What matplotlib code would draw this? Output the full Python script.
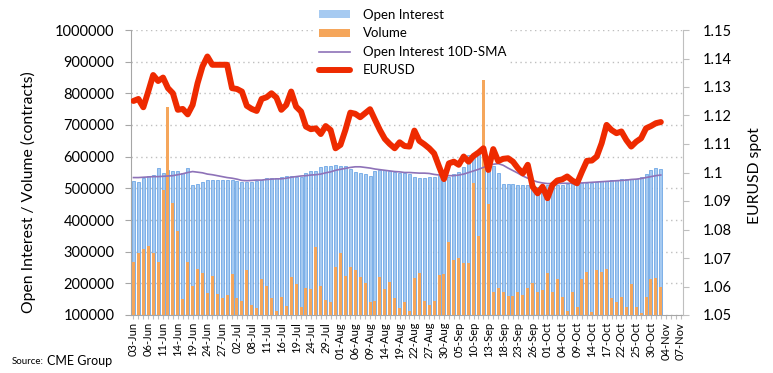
import matplotlib
matplotlib.use("Agg")
import matplotlib.pyplot as plt
import numpy as np
from matplotlib.lines import Line2D
from matplotlib.patches import Patch

plt.rcParams['font.family'] = ['Lato', 'DejaVu Sans']

# x axis: one category per trading day, a label every third day
tick_labels = ["03-Jun", "06-Jun", "11-Jun", "14-Jun", "19-Jun", "24-Jun", "27-Jun",
               "02-Jul", "08-Jul", "11-Jul", "16-Jul", "19-Jul", "24-Jul", "29-Jul",
               "01-Aug", "06-Aug", "09-Aug", "14-Aug", "19-Aug", "22-Aug", "27-Aug", "30-Aug",
               "05-Sep", "10-Sep", "13-Sep", "18-Sep", "23-Sep", "26-Sep",
               "01-Oct", "04-Oct", "09-Oct", "14-Oct", "17-Oct", "22-Oct", "25-Oct", "30-Oct",
               "04-Nov", "07-Nov"]
n_cats = 112

# values in thousands of contracts
open_interest = [524, 521, 532, 540, 542, 565, 547, 558, 556, 555, 550, 565, 510, 513, 519, 526,
                 526, 526, 526, 526, 526, 524, 521, 521, 521, 524, 526, 532, 534, 534, 536, 540,
                 540, 537, 537, 547, 554, 556, 566, 569, 572, 575, 571, 569, 560, 553, 547, 544,
                 540, 556, 558, 558, 556, 553, 550, 550, 545, 535, 532, 532, 535, 537, 539, 540,
                 537, 545, 553, 568, 605, 600, 608, 590, 574, 570, 547, 514, 513, 514, 510, 510,
                 511, 505, 505, 508, 509, 511, 510, 511, 513, 514, 516, 516, 516, 518, 521, 524,
                 524, 526, 526, 528, 528, 530, 530, 537, 544, 558, 563, 561]

volume = [266, 295, 307, 319, 295, 266, 495, 758, 453, 365, 149, 266, 192, 244, 234, 168,
          224, 165, 153, 163, 228, 153, 145, 242, 131, 121, 213, 193, 153, 114, 158, 128,
          221, 197, 124, 184, 181, 316, 192, 147, 142, 251, 295, 224, 251, 242, 221, 200,
          140, 145, 219, 181, 205, 155, 121, 140, 113, 216, 232, 145, 132, 145, 226, 230,
          330, 274, 281, 263, 263, 518, 350, 852, 450, 174, 184, 172, 161, 161, 174, 163,
          184, 200, 172, 179, 232, 174, 213, 158, 113, 174, 126, 213, 237, 111, 242, 237,
          244, 153, 140, 158, 124, 197, 124, 105, 156, 213, 216, 187]

oi_sma = [534, 534, 535, 536, 537, 537, 538, 539, 540, 543, 546, 550, 553, 551, 549, 545,
          543, 540, 537, 534, 532, 529, 525, 524, 525, 526, 526, 528, 529, 530, 530, 532,
          535, 537, 539, 540, 542, 543, 545, 549, 552, 557, 560, 563, 566, 568, 568, 566,
          564, 561, 559, 557, 555, 553, 552, 550, 550, 549, 548, 548, 547, 544, 542, 540,
          540, 540, 542, 545, 550, 555, 560, 566, 572, 576, 578, 573, 564, 556, 548, 539,
          532, 525, 520, 517, 515, 515, 515, 516, 516, 516, 517, 517, 518, 519, 520, 521,
          522, 523, 524, 525, 526, 528, 529, 531, 534, 537, 540, 542]

eurusd = [1.1251, 1.1258, 1.1229, 1.1284, 1.1342, 1.1321, 1.1333, 1.1296, 1.1278, 1.1220,
          1.1223, 1.1204, 1.1237, 1.1313, 1.1372, 1.1407, 1.1378, 1.1378, 1.1378, 1.1378,
          1.1296, 1.1293, 1.1284, 1.1234, 1.1223, 1.1216, 1.1258, 1.1264, 1.1278, 1.1263,
          1.1220, 1.1237, 1.1284, 1.1231, 1.1214, 1.1161, 1.1152, 1.1155, 1.1135, 1.1163,
          1.1149, 1.1085, 1.1097, 1.1149, 1.1210, 1.1206, 1.1194, 1.1208, 1.1222, 1.1185,
          1.1149, 1.1118, 1.1100, 1.1085, 1.1106, 1.1093, 1.1091, 1.1147, 1.1111, 1.1099,
          1.1085, 1.1067, 1.1021, 1.0977, 1.1032, 1.1038, 1.1027, 1.1056, 1.1038, 1.1058,
          1.1070, 1.1085, 1.1009, 1.1082, 1.1040, 1.1048, 1.1050, 1.1038, 1.1015, 1.0997,
          1.1027, 1.0950, 1.0927, 1.0950, 1.0910, 1.0956, 1.0972, 1.0976, 1.0986, 1.0972,
          1.0962, 1.1003, 1.1041, 1.1042, 1.1056, 1.1103, 1.1167, 1.1149, 1.1138, 1.1144,
          1.1114, 1.1091, 1.1108, 1.1120, 1.1155, 1.1163, 1.1173, 1.1177]

blue = '#A6CAF1'
blue_edge = '#5C9CE2'
orange = '#F5A65B'
purple = '#8E72B8'
red = '#EE2A00'
grey = '#A6A6A6'

W, H = 773, 373
fig = plt.figure(figsize=(W / 100, H / 100), dpi=100)
ax = fig.add_axes([131 / W, 1 - 315 / H, (683 - 131) / W, 285 / H])

x = np.arange(len(open_interest))
ax.bar(x, np.array(open_interest) * 1000, width=0.62, color=blue, edgecolor=blue_edge,
       linewidth=0.5, zorder=2)
ax.bar(x, np.array(volume) * 1000, width=0.62, color=orange, zorder=3)
ax.plot(x, np.array(oi_sma) * 1000, color=purple, lw=1.2, zorder=4)

ax.set_xlim(-0.5, n_cats - 0.5)
ax.set_ylim(100000, 1000000)
yt = np.arange(100000, 1000001, 100000)
ax.set_yticks(yt)
ax.set_yticklabels([str(v) for v in yt])
labels = [''] * n_cats
labels[::3] = tick_labels
ax.set_xticks(np.arange(n_cats))
ax.set_xticklabels(labels, rotation=90, fontsize=8)
ax.tick_params(axis='x', length=3, color='#BFBFBF', pad=2)
ax.tick_params(axis='y', length=4, color=grey, labelsize=10.5, pad=8)
ax.yaxis.grid(True, linestyle=(0, (1, 2.5)), color='#BFBFBF', lw=1)
ax.set_axisbelow(True)
for s in ['top', 'right']:
    ax.spines[s].set_visible(False)
ax.spines['left'].set_color(grey)
ax.spines['bottom'].set_color(grey)
ax.set_ylabel('Open Interest / Volume (contracts)', fontsize=11.3)
ax.yaxis.set_label_coords(-0.172, 0.43)

ax2 = ax.twinx()
ax2.plot(x, eurusd, color=red, lw=4.3, solid_capstyle='round', solid_joinstyle='round', zorder=5)
ax2.set_ylim(1.05, 1.15)
rt = [1.05, 1.06, 1.07, 1.08, 1.09, 1.10, 1.11, 1.12, 1.13, 1.14, 1.15]
ax2.set_yticks(rt)
ax2.set_yticklabels(['%g' % v for v in rt])
ax2.tick_params(axis='y', length=4, color='#BFBFBF', labelsize=10.5, pad=10)
for s in ['top', 'left', 'bottom']:
    ax2.spines[s].set_visible(False)
ax2.spines['right'].set_color('#BFBFBF')
ax2.set_ylabel('EURUSD spot', fontsize=11.3, rotation=90)
ax2.yaxis.set_label_coords(1.118, 0.49)

handles = [Patch(facecolor=blue, edgecolor='none'),
           Patch(facecolor=orange, edgecolor='none'),
           Line2D([], [], color=purple, lw=1.2),
           Line2D([], [], color=red, lw=4.3, solid_capstyle='round')]
names = ['Open Interest', 'Volume', 'Open Interest 10D-SMA', 'EURUSD']
leg = fig.legend(handles, names, loc='upper left', bbox_to_anchor=(308 / W, 1.005),
                 fontsize=9.5, frameon=True, facecolor='white', edgecolor='none',
                 framealpha=1, fancybox=False, handlelength=2.35, handleheight=0.55,
                 handletextpad=1.0, labelspacing=0.5, borderpad=0.3)

fig.text(12 / W, 1 - 361 / H, 'Source:', fontsize=7, va='center')
fig.text(47 / W, 1 - 361 / H, 'CME Group', fontsize=9, va='center')

fig.savefig('out.png', dpi=100)
